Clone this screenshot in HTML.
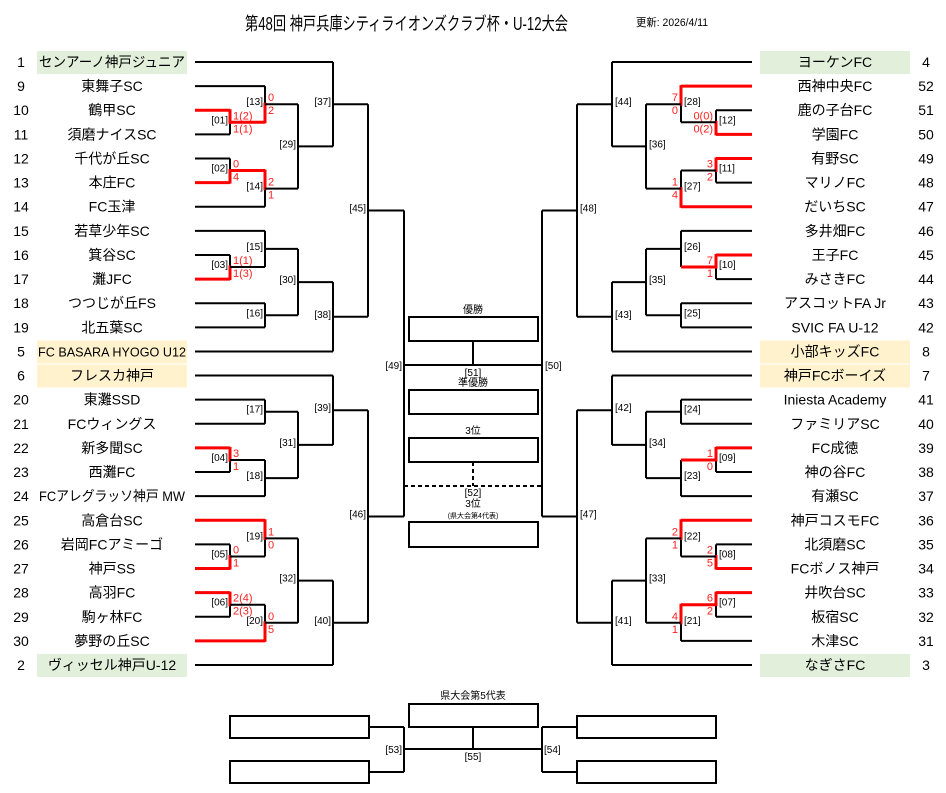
<!DOCTYPE html>
<html><head><meta charset="utf-8">
<style>
html,body{margin:0;padding:0;background:#fff;}
svg{display:block;font-family:"Liberation Sans","Noto Sans CJK JP",sans-serif;}
</style></head>
<body>
<svg id="s" width="946" height="793" viewBox="0 0 946 793" xmlns="http://www.w3.org/2000/svg">
<text x="245" y="30" font-size="18" fill="#000" textLength="323" lengthAdjust="spacingAndGlyphs">第48回 神戸兵庫シティライオンズクラブ杯・U-12大会</text>
<text x="636" y="26" font-size="11" fill="#000" textLength="72" lengthAdjust="spacingAndGlyphs">更新: 2026/4/11</text>
<g id="g"></g>
</svg>
<script>
var g=document.getElementById('g');var NS='http://www.w3.org/2000/svg';
function el(t,a,txt){var e=document.createElementNS(NS,t);for(var k in a)e.setAttribute(k,a[k]);if(txt!==undefined)e.textContent=txt;g.appendChild(e);return e;}
function ln(x1,y1,x2,y2,red,dash){var a={x1:x1,y1:y1,x2:x2,y2:y2,stroke:red?'#ff0000':'#000','stroke-width':red?3:2};if(dash)a['stroke-dasharray']='4,3';el('line',a);}
function ry(i){return 62+i*24.12;}
var L=['センアーノ神戸ジュニア','東舞子SC','鶴甲SC','須磨ナイスSC','千代が丘SC','本庄FC','FC玉津','若草少年SC','箕谷SC','灘JFC','つつじが丘FS','北五葉SC','FC BASARA HYOGO U12','フレスカ神戸','東灘SSD','FCウィングス','新多聞SC','西灘FC','FCアレグラッソ神戸 MW','高倉台SC','岩岡FCアミーゴ','神戸SS','高羽FC','駒ヶ林FC','夢野の丘SC','ヴィッセル神戸U-12'];
var LN=['1','9','10','11','12','13','14','15','16','17','18','19','5','6','20','21','22','23','24','25','26','27','28','29','30','2'];
var R=['ヨーケンFC','西神中央FC','鹿の子台FC','学園FC','有野SC','マリノFC','だいちSC','多井畑FC','王子FC','みさきFC','アスコットFA Jr','SVIC FA U-12','小部キッズFC','神戸FCボーイズ','Iniesta Academy','ファミリアSC','FC成徳','神の谷FC','有瀬SC','神戸コスモFC','北須磨SC','FCボノス神戸','井吹台SC','板宿SC','木津SC','なぎさFC'];
var RN=['4','52','51','50','49','48','47','46','45','44','43','42','8','7','41','40','39','38','37','36','35','34','33','32','31','3'];
var hl={0:'#e2efda',12:'#fff2cc',13:'#fff2cc',25:'#e2efda'};
for(var i=0;i<26;i++){var y=ry(i);
 if(hl[i]){el('rect',{x:37,y:y-11,width:150,height:23,fill:hl[i]});el('rect',{x:760,y:y-11,width:150,height:23,fill:hl[i]});}
 var a={x:112,y:y+5,'font-size':14,'text-anchor':'middle'};
 if(i==12){a.textLength=148;a.lengthAdjust='spacingAndGlyphs';a['font-size']=13;}
 if(i==18){a.textLength=146;a.lengthAdjust='spacingAndGlyphs';}
 if(i==0){a.textLength=146;a.lengthAdjust='spacingAndGlyphs';}
 el('text',a,L[i]);
 el('text',{x:835,y:y+5,'font-size':14,'text-anchor':'middle'},R[i]);
 el('text',{x:21,y:y+5,'font-size':14,'text-anchor':'middle'},LN[i]);
 el('text',{x:926,y:y+5,'font-size':14,'text-anchor':'middle'},RN[i]);
}
function lf(i,side){return {y:ry(i),x:side<0?195:752};}
function m(side,x,A,B,w,s1,s2,lab){
 ln(A.x,A.y,x,A.y,w==1&&A.r!==false);ln(B.x,B.y,x,B.y,w==2&&B.r!==false);
 var mid=(A.y+B.y)/2;ln(x,A.y,x,B.y,false);
 if(w==1)ln(x,A.y-1,x,mid+1.5,true);if(w==2)ln(x,mid-1.5,x,B.y+1,true);
 if(lab){if(side<0)el('text',{x:x-2,y:mid+1,'font-size':10,'text-anchor':'end'},lab);else el('text',{x:x+3,y:mid+1,'font-size':10},lab);}
 if(s1!==undefined){var sx=side<0?x+3:x-3,an=side<0?'start':'end';
  el('text',{x:sx,y:mid-3,'font-size':11,fill:'#ff2020','text-anchor':an},s1);
  el('text',{x:sx,y:mid+10,'font-size':11,fill:'#ff2020','text-anchor':an},s2);}
 return {x:x,y:mid,r:w!=0};
}
var S=-1;
var a01=m(S,230,lf(2,S),lf(3,S),1,'1(2)','1(1)','[01]');
var a13=m(S,265,lf(1,S),a01,2,'0','2','[13]');
var a02=m(S,230,lf(4,S),lf(5,S),2,'0','4','[02]');
var a14=m(S,265,a02,lf(6,S),1,'2','1','[14]');
var a29=m(S,298,a13,a14,0,undefined,undefined,'[29]');
var a37=m(S,333,lf(0,S),a29,0,undefined,undefined,'[37]');
var a03=m(S,230,lf(8,S),lf(9,S),2,'1(1)','1(3)','[03]');
var a15=m(S,265,lf(7,S),a03,0,undefined,undefined,'[15]');
var a16=m(S,265,lf(10,S),lf(11,S),0,undefined,undefined,'[16]');
var a30=m(S,298,a15,a16,0,undefined,undefined,'[30]');
var a38=m(S,333,a30,lf(12,S),0,undefined,undefined,'[38]');
var a45=m(S,368,a37,a38,0,undefined,undefined,'[45]');
var a17=m(S,265,lf(14,S),lf(15,S),0,undefined,undefined,'[17]');
var a04=m(S,230,lf(16,S),lf(17,S),1,'3','1','[04]');
var a18=m(S,265,a04,lf(18,S),0,undefined,undefined,'[18]');
var a31=m(S,298,a17,a18,0,undefined,undefined,'[31]');
var a39=m(S,333,lf(13,S),a31,0,undefined,undefined,'[39]');
var a05=m(S,230,lf(20,S),lf(21,S),2,'0','1','[05]');
var a19=m(S,265,lf(19,S),a05,1,'1','0','[19]');
var a06=m(S,230,lf(22,S),lf(23,S),1,'2(4)','2(3)','[06]');
var a20=m(S,265,a06,lf(24,S),2,'0','5','[20]');
var a32=m(S,298,a19,a20,0,undefined,undefined,'[32]');
var a40=m(S,333,a32,lf(25,S),0,undefined,undefined,'[40]');
var a46=m(S,368,a39,a40,0,undefined,undefined,'[46]');
S=1;
var b12=m(S,716,lf(2,S),lf(3,S),2,'0(0)','0(2)','[12]');
var b28=m(S,681,lf(1,S),b12,1,'7','0','[28]');
var b11=m(S,716,lf(4,S),lf(5,S),1,'3','2','[11]');
var b27=m(S,681,b11,lf(6,S),2,'1','4','[27]');
var b36=m(S,646,b28,b27,0,undefined,undefined,'[36]');
var b44=m(S,612,lf(0,S),b36,0,undefined,undefined,'[44]');
var b10=m(S,716,lf(8,S),lf(9,S),1,'7','1','[10]');
var b26=m(S,681,lf(7,S),b10,0,undefined,undefined,'[26]');
ln(716,b10.y,681,b10.y,true);
var b25=m(S,681,lf(10,S),lf(11,S),0,undefined,undefined,'[25]');
var b35=m(S,646,b26,b25,0,undefined,undefined,'[35]');
var b43=m(S,612,b35,lf(12,S),0,undefined,undefined,'[43]');
var b48=m(S,577,b44,b43,0,undefined,undefined,'[48]');
var b24=m(S,681,lf(14,S),lf(15,S),0,undefined,undefined,'[24]');
var b09=m(S,716,lf(16,S),lf(17,S),1,'1','0','[09]');
var b23=m(S,681,b09,lf(18,S),0,undefined,undefined,'[23]');
ln(716,b09.y,681,b09.y,true);
var b34=m(S,646,b24,b23,0,undefined,undefined,'[34]');
var b42=m(S,612,lf(13,S),b34,0,undefined,undefined,'[42]');
var b08=m(S,716,lf(20,S),lf(21,S),2,'2','5','[08]');
var b22=m(S,681,lf(19,S),b08,1,'2','1','[22]');
var b07=m(S,716,lf(22,S),lf(23,S),1,'6','2','[07]');
var b21=m(S,681,b07,lf(24,S),1,'4','1','[21]');
var b33=m(S,646,b22,b21,0,undefined,undefined,'[33]');
var b41=m(S,612,b33,lf(25,S),0,undefined,undefined,'[41]');
var b47=m(S,577,b42,b41,0,undefined,undefined,'[47]');
ln(368,a45.y,404,a45.y);ln(368,a46.y,404,a46.y);ln(404,a45.y,404,a46.y);
ln(577,b48.y,542,b48.y);ln(577,b47.y,542,b47.y);ln(542,b48.y,542,b47.y);
el('text',{x:402,y:369,'font-size':10,'text-anchor':'end'},'[49]');
el('text',{x:545,y:369,'font-size':10},'[50]');
ln(404,365,542,365);ln(473,341,473,365);
el('text',{x:473,y:376,'font-size':10,'text-anchor':'middle'},'[51]');
function box(x,y,w,h){el('rect',{x:x,y:y,width:w,height:h,fill:'none',stroke:'#000','stroke-width':2});}
box(409,317,129,24);el('text',{x:473,y:313,'font-size':10,'text-anchor':'middle'},'優勝');
box(409,390,129,24);el('text',{x:473,y:386,'font-size':10,'text-anchor':'middle'},'準優勝');
box(409,438,129,24);el('text',{x:473,y:434,'font-size':10,'text-anchor':'middle'},'3位');
ln(473,462,473,486,false,true);ln(404,486,542,486,false,true);
el('text',{x:473,y:496,'font-size':10,'text-anchor':'middle'},'[52]');
el('text',{x:473,y:507,'font-size':10,'text-anchor':'middle'},'3位');
el('text',{x:473,y:518,'font-size':7,'text-anchor':'middle'},'(県大会第4代表)');
box(409,522,129,25);
el('text',{x:473,y:699,'font-size':10,'text-anchor':'middle'},'県大会第5代表');
box(409,704,129,23);
box(230,716,139,22);box(230,761,139,22);
box(577,716,139,22);box(577,761,139,22);
ln(369,727,404,727);ln(369,772,404,772);ln(404,727,404,772);
ln(577,727,542,727);ln(577,772,542,772);ln(542,727,542,772);
ln(404,749,542,749);ln(473,727,473,749);
el('text',{x:402,y:753,'font-size':10,'text-anchor':'end'},'[53]');
el('text',{x:544,y:753,'font-size':10},'[54]');
el('text',{x:473,y:760,'font-size':10,'text-anchor':'middle'},'[55]');
</script>
</body></html>
